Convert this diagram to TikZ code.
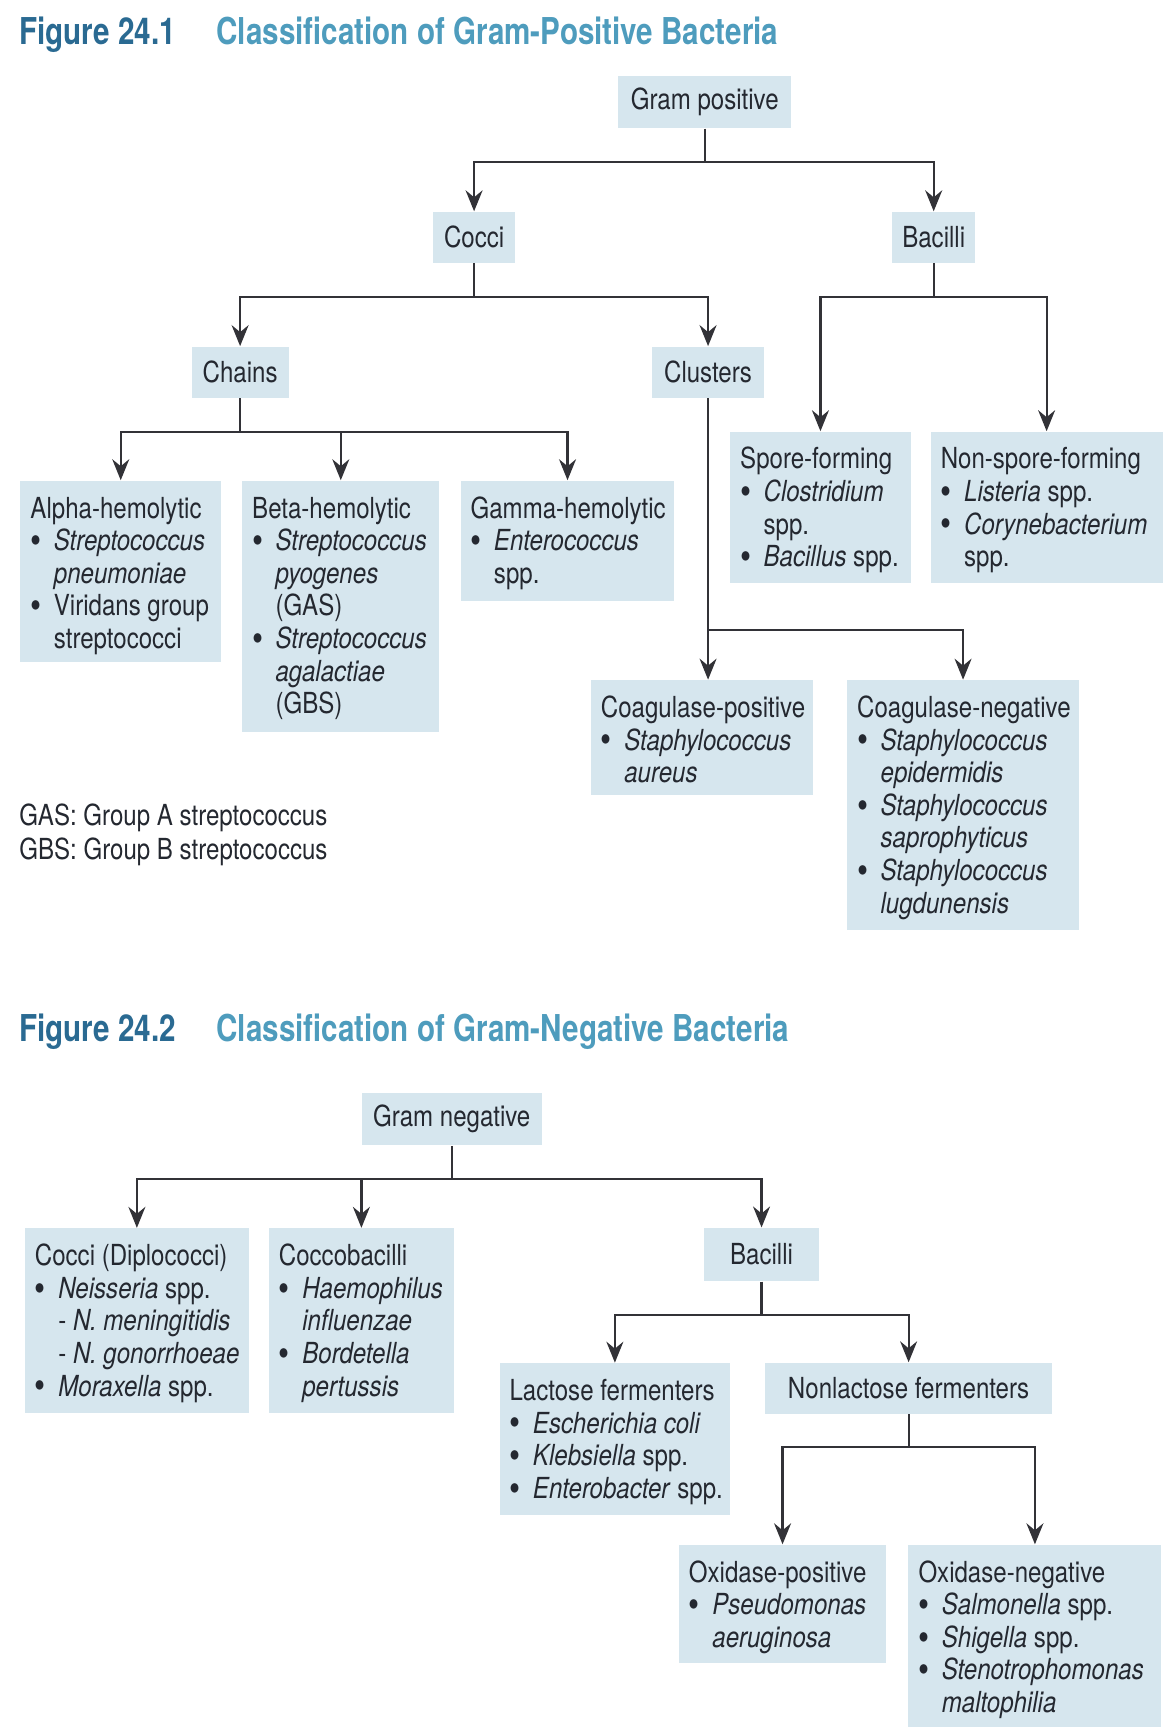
\documentclass[tikz,border=0pt]{standalone}
\usepackage{fontspec}
\setmainfont{TeX Gyre Heros}[FakeStretch=0.83]
\newfontfamily\titlefont{TeX Gyre Heros}[FakeStretch=0.8]
\usetikzlibrary{arrows.meta,calc}
\definecolor{boxblue}{RGB}{214,230,238}
\definecolor{figdark}{RGB}{42,106,146}
\definecolor{figlight}{RGB}{78,156,189}
\definecolor{txt}{RGB}{36,40,48}
\definecolor{lin}{RGB}{50,50,55}
\newcommand{\bu}{\makebox[11.7pt][l]{\raisebox{-1.4pt}{\fontsize{19}{16}\selectfont •}}}
\newcommand{\ind}{\hspace*{11.7pt}}
\begin{document}
\begin{tikzpicture}[x=0.5571pt,y=-0.5571pt,
  every node/.style={text=txt, font=\fontsize{14.5}{16.3}\selectfont},
  sbox/.style 2 args={fill=boxblue, inner sep=0pt, minimum width=#1*0.5571pt, minimum height=#2*0.5571pt},
  lbox/.style 2 args={fill=boxblue, inner sep=0pt, anchor=north west, minimum width=#1*0.5571pt, minimum height=#2*0.5571pt},
  ltxt/.style={anchor=north west, align=left, inner sep=0pt},
  con/.style={draw=lin, line width=1.1pt},
  arr/.style={draw=lin, line width=1.1pt, -{Stealth[length=10.5pt,width=8.5pt,inset=3.5pt]}},
  ttl/.style={anchor=base west, inner sep=0pt, font=\titlefont\bfseries\fontsize{18.5}{20}\selectfont}
]
\useasboundingbox (0,0) rectangle (1050,1550);

% ---------------- Figure 24.1 ----------------
\node[ttl, text=figdark] (t1a) at (17,40) {Figure 24.1};
\node[ttl, text=figlight] (t1b) at (194,40) {Classification of Gram-Positive Bacteria};

\node[sbox={155}{47}] (gp) at (632.5,91.5) {Gram positive};
\node[sbox={73}{46}] (cocci) at (425.5,213) {Cocci};
\node[sbox={74}{46}] (bacA) at (838,213) {Bacilli};
\node[sbox={87}{46}] (chains) at (215.5,334) {Chains};
\node[sbox={101}{46}] (clu) at (635.5,334) {Clusters};

\node[lbox={162}{136}] (spore) at (655,387) {};
\node[ltxt] (sporet) at (664,399) {\rule{0pt}{12pt}Spore-forming\\\bu\textit{Clostridium}\\\ind spp.\\\bu\textit{Bacillus} spp.};
\node[lbox={208}{136}] (nons) at (835,387) {};
\node[ltxt] (nonst) at (844,399) {\rule{0pt}{12pt}Non-spore-forming\\\bu\textit{Listeria} spp.\\\bu\textit{Corynebacterium}\\\ind spp.};

\node[lbox={180}{163}] (alpha) at (18,431) {};
\node[ltxt] (alphat) at (27,443) {\rule{0pt}{12pt}Alpha-hemolytic\\\bu\textit{Streptococcus}\\\ind\textit{pneumoniae}\\\bu Viridans group\\\ind streptococci};
\node[lbox={177}{226}] (beta) at (217,431) {};
\node[ltxt] (betat) at (226,443) {\rule{0pt}{12pt}Beta-hemolytic\\\bu\textit{Streptococcus}\\\ind\textit{pyogenes}\\\ind(GAS)\\\bu\textit{Streptococcus}\\\ind\textit{agalactiae}\\\ind(GBS)};
\node[lbox={192}{108}] (gamma) at (413,431) {};
\node[ltxt] (gammat) at (422,443) {\rule{0pt}{12pt}Gamma-hemolytic\\\bu\textit{Enterococcus}\\\ind spp.};

\node[lbox={199}{103}] (cpos) at (530,610) {};
\node[ltxt] (cpost) at (539,622) {\rule{0pt}{12pt}Coagulase-positive\\\bu\textit{Staphylococcus}\\\ind\textit{aureus}};
\node[lbox={208}{224}] (cneg) at (760,610) {};
\node[ltxt] (cnegt) at (769,622) {\rule{0pt}{12pt}Coagulase-negative\\\bu\textit{Staphylococcus}\\\ind\textit{epidermidis}\\\bu\textit{Staphylococcus}\\\ind\textit{saprophyticus}\\\bu\textit{Staphylococcus}\\\ind\textit{lugdunensis}};

\node[anchor=base west, inner sep=0pt] (gas) at (17,741) {GAS: Group A streptococcus};
\node[anchor=base west, inner sep=0pt] (gbs) at (17,771) {GBS: Group B streptococcus};

\draw[con] (gp.south) -- ++(0,30) coordinate (j1);
\draw[arr] (j1) -| (cocci.north);
\draw[arr] (j1) -| (bacA.north);
\draw[con] (cocci.south) -- ++(0,30) coordinate (j2);
\draw[arr] (j2) -| (chains.north);
\draw[arr] (j2) -| (clu.north);
\draw[con] (bacA.south) -- ++(0,30) coordinate (j3);
\draw[arr] (j3) -| (spore.north);
\draw[arr] (j3) -| (nons.north);
\draw[con] (chains.south) -- ++(0,30) coordinate (j4);
\draw[arr] (j4) -| (alpha.north);
\draw[arr] (j4) -| (beta.north);
\draw[arr] (j4) -| (gamma.north);
\draw[con] (clu.south) -- ++(0,208) coordinate (j5);
\draw[arr] (j5) -- (j5 |- cpos.north);
\draw[arr] (j5) -| (cneg.north);

% ---------------- Figure 24.2 ----------------
\node[ttl, text=figdark] (t2a) at (17,935) {Figure 24.2};
\node[ttl, text=figlight] (t2b) at (194,935) {Classification of Gram-Negative Bacteria};

\node[sbox={161}{47}] (gn) at (405.5,1004.5) {Gram negative};
\node[lbox={201}{166}] (dip) at (22,1102) {};
\node[ltxt] (dipt) at (31,1114) {\rule{0pt}{12pt}Cocci (Diplococci)\\\bu\textit{Neisseria} spp.\\\ind- \textit{N. meningitidis}\\\ind- \textit{N. gonorrhoeae}\\\bu\textit{Moraxella} spp.};
\node[lbox={166}{166}] (cob) at (241,1102) {};
\node[ltxt] (cobt) at (250,1114) {\rule{0pt}{12pt}Coccobacilli\\\bu\textit{Haemophilus}\\\ind\textit{influenzae}\\\bu\textit{Bordetella}\\\ind\textit{pertussis}};
\node[sbox={103}{48}] (bacB) at (683.5,1126) {Bacilli};
\node[lbox={207}{136}] (lac) at (448,1223) {};
\node[ltxt] (lact) at (457,1235) {\rule{0pt}{12pt}Lactose fermenters\\\bu\textit{Escherichia coli}\\\bu\textit{Klebsiella} spp.\\\bu\textit{Enterobacter} spp.};
\node[sbox={257}{46}] (nlac) at (815.5,1246) {Nonlactose fermenters};
\node[lbox={186}{106}] (oxp) at (609,1386) {};
\node[ltxt] (oxpt) at (618,1398) {\rule{0pt}{12pt}Oxidase-positive\\\bu\textit{Pseudomonas}\\\ind\textit{aeruginosa}};
\node[lbox={227}{164}] (oxn) at (815,1386) {};
\node[ltxt] (oxnt) at (824,1398) {\rule{0pt}{12pt}Oxidase-negative\\\bu\textit{Salmonella} spp.\\\bu\textit{Shigella} spp.\\\bu\textit{Stenotrophomonas}\\\ind\textit{maltophilia}};

\draw[con] (gn.south) -- ++(0,30) coordinate (k1);
\draw[arr] (k1) -| (dip.north);
\draw[arr] (k1) -| (cob.north);
\draw[arr] (k1) -| (bacB.north);
\draw[con] (bacB.south) -- ++(0,30) coordinate (k2);
\draw[arr] (k2) -| (lac.north);
\draw[arr] (k2) -| (nlac.north);
\draw[con] (nlac.south) -- ++(0,29) coordinate (k3);
\draw[arr] (k3) -| (oxp.north);
\draw[arr] (k3) -| (oxn.north);
\end{tikzpicture}
\end{document}
